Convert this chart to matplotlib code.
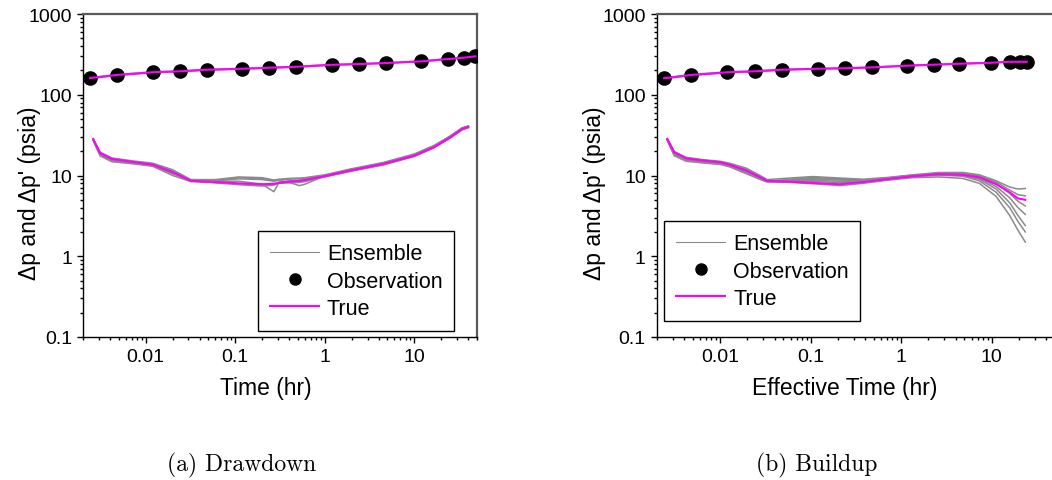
import matplotlib
matplotlib.use('Agg')
import matplotlib.pyplot as plt
from matplotlib.lines import Line2D
from matplotlib.ticker import FuncFormatter, LogLocator

plt.rcParams['font.family'] = ['Liberation Sans', 'DejaVu Sans']

# ---------------- drawdown (a) ----------------
dd_obs_t = [0.0024, 0.0048, 0.012, 0.024, 0.048, 0.12, 0.24, 0.48, 1.2, 2.4, 4.8, 12, 24, 36, 48]
dd_obs_p = [161, 176, 190, 195, 204, 210, 216, 222, 235, 240, 247, 259, 277, 288, 299]
dd_p_ens = [[158, 173, 187, 193, 201, 208, 213, 220, 232, 238, 245, 257, 274, 285, 296],
            [163, 178, 192, 197, 206, 212, 218, 224, 237, 242, 249, 262, 280, 291, 302]]

dd_t = [0.0026, 0.0031, 0.0042, 0.007, 0.012, 0.02, 0.032, 0.06, 0.11, 0.2, 0.27,
        0.31, 0.4, 0.52, 0.6, 1.0, 1.9, 4.5, 10, 16.5, 25, 34, 40]
dd_true = [28.3, 19.0, 16.0, 14.8, 13.6, 11.0, 8.6, 8.3, 8.0, 7.8, 7.9,
           8.1, 8.4, 8.6, 8.8, 9.8, 11.5, 13.9, 17.6, 22.4, 29.5, 37.6, 40]
dd_ens = [
    [28.5, 19.5, 16.5, 15.2, 14.2, 11.8, 8.9, 8.9, 9.6, 9.4, 8.8, 9.0, 9.2, 9.3, 9.4, 10.2, 12.0, 14.5, 18.5, 23.5, 30.5, 38.5, 41],
    [27.0, 17.5, 14.8, 14.0, 13.0, 10.0, 8.4, 8.1, 7.7, 7.4, 7.6, 8.2, 8.3, 8.4, 8.6, 9.6, 11.2, 13.5, 17.2, 22.0, 29.0, 36.5, 39],
    [27.5, 18.0, 15.2, 14.3, 13.3, 10.5, 8.6, 8.5, 8.5, 7.8, 6.3, 8.3, 8.6, 8.7, 8.9, 9.8, 11.5, 14.0, 17.8, 22.8, 30.0, 37.5, 40],
    [28.0, 18.5, 15.7, 14.6, 13.8, 11.2, 8.7, 8.6, 9.1, 8.9, 8.5, 8.7, 8.2, 7.5, 7.8, 9.9, 11.7, 14.2, 18.0, 23.0, 30.2, 38.0, 40.5],
    [27.8, 18.2, 15.4, 14.4, 13.5, 10.8, 8.5, 8.7, 9.3, 9.2, 8.7, 8.8, 9.0, 9.1, 9.2, 10.0, 11.8, 14.3, 18.2, 23.2, 30.8, 39.0, 41],
    [28.2, 18.8, 15.9, 14.9, 13.9, 11.5, 8.8, 8.2, 7.9, 7.6, 7.9, 8.0, 8.1, 8.2, 8.4, 9.7, 11.3, 13.7, 17.4, 22.2, 29.3, 37.0, 39.5],
]

# ---------------- buildup (b) ----------------
bu_obs_t = [0.0024, 0.0048, 0.012, 0.024, 0.048, 0.12, 0.24, 0.47, 1.17, 2.3, 4.4, 9.8, 15.8, 20.4, 24.4]
bu_obs_p = [160, 176, 190, 195, 204, 210, 213, 218, 229, 236, 242, 249, 256, 256, 256]
bu_p_ens = [[157, 173, 187, 193, 202, 208, 211, 216, 227, 234, 240, 247, 254, 254, 254],
            [162, 178, 192, 197, 206, 212, 215, 220, 231, 238, 244, 251, 258, 258, 258]]

bu_t = [0.0026, 0.0031, 0.0042, 0.0065, 0.010, 0.0127, 0.0195, 0.030, 0.033, 0.058, 0.106,
        0.21, 0.38, 0.74, 1.34, 2.6, 4.8, 7.3, 11.2, 15.8, 19.5, 23.5]
bu_true = [28.3, 19.4, 16.3, 15.3, 14.6, 13.6, 11.5, 9.1, 8.6, 8.4, 8.1,
           7.8, 8.3, 9.1, 9.8, 10.4, 10.2, 9.5, 7.8, 6.2, 5.2, 5.0]
bu_ens = [
    [28.6, 19.8, 16.8, 15.7, 15.0, 14.2, 12.3, 9.5, 8.9, 9.3, 9.7, 9.3, 9.0, 9.5, 10.2, 10.9, 10.9, 10.2, 8.6, 7.2, 6.8, 6.9],
    [27.2, 17.6, 15.0, 14.3, 13.7, 12.8, 10.5, 8.6, 8.3, 8.2, 7.9, 7.5, 8.0, 8.8, 9.4, 9.6, 9.2, 8.0, 5.5, 3.2, 2.1, 1.5],
    [27.8, 18.4, 15.6, 14.8, 14.1, 13.2, 11.0, 8.9, 8.5, 8.8, 9.2, 8.8, 8.6, 9.2, 9.9, 10.3, 10.0, 9.0, 6.8, 4.6, 3.2, 2.4],
    [28.1, 19.0, 16.0, 15.0, 14.4, 13.5, 11.6, 9.0, 8.6, 8.5, 8.4, 8.2, 8.4, 9.0, 9.7, 10.5, 10.5, 9.8, 8.0, 6.0, 4.8, 4.2],
    [27.5, 18.0, 15.3, 14.5, 13.9, 13.0, 10.8, 8.7, 8.4, 9.0, 9.5, 9.0, 8.7, 9.3, 10.0, 10.7, 10.7, 10.0, 8.3, 6.6, 5.8, 5.6],
    [28.4, 19.5, 16.5, 15.4, 14.7, 13.8, 11.9, 9.2, 8.7, 8.6, 8.7, 8.5, 8.2, 8.9, 9.6, 10.1, 9.8, 8.6, 6.2, 4.0, 2.7, 2.0],
    [27.9, 18.6, 15.8, 14.9, 14.2, 13.4, 11.3, 8.8, 8.5, 8.7, 9.0, 9.1, 8.8, 9.4, 10.1, 10.6, 10.3, 9.3, 7.3, 5.3, 4.0, 3.3],
]

ens_color = '#8a8a8a'
true_color = '#ff00ff'

fig = plt.figure(figsize=(10.52, 4.81), dpi=100)
ax1 = fig.add_axes([0.0789, 0.2973, 0.3745, 0.6715])
ax2 = fig.add_axes([0.6245, 0.2973, 0.3783, 0.6715])


def draw(ax, obs_t, obs_p, p_ens, t, true, ens, xlabel, leg_anchor, xl_x, yl_x):
    for m in p_ens:
        ax.plot(obs_t, m, color=ens_color, lw=1.0)
    for m in ens:
        ax.plot(t, m, color=ens_color, lw=1.1)
    ax.plot(obs_t, obs_p, 'o', color='black', ms=9.5, zorder=3)
    ax.plot(obs_t, obs_p, color=true_color, lw=1.5, zorder=4)
    ax.plot(t, true, color=true_color, lw=1.5, zorder=4)

    ax.set_xscale('log')
    ax.set_yscale('log')
    ax.set_xlim(0.002, 50)
    ax.set_ylim(0.1, 1000)
    fmt = FuncFormatter(lambda v, p: '%g' % v)
    ax.xaxis.set_major_formatter(fmt)
    ax.yaxis.set_major_formatter(fmt)
    ax.xaxis.set_major_locator(LogLocator(base=10, numticks=10))
    ax.yaxis.set_major_locator(LogLocator(base=10, numticks=10))
    ax.tick_params(which='both', direction='out', top=False, right=False,
                   labelsize=14, width=1, color='black')
    ax.tick_params(which='major', length=4, pad=4)
    ax.tick_params(which='minor', length=2)
    ax.spines['left'].set_color('black')
    ax.spines['bottom'].set_color('black')
    ax.spines['left'].set_linewidth(1.0)
    ax.spines['bottom'].set_linewidth(1.0)
    ax.spines['top'].set_color('#5a5a5a')
    ax.spines['right'].set_color('#5a5a5a')
    ax.spines['top'].set_linewidth(1.6)
    ax.spines['right'].set_linewidth(1.6)

    ax.set_xlabel(xlabel, fontsize=16.5)
    ax.set_ylabel("\u0394p and \u0394p' (psia)", fontsize=16.5)
    ax.xaxis.label.set_va('center')
    ax.yaxis.label.set_va('center')
    ax.xaxis.set_label_coords(xl_x, -0.155)
    ax.yaxis.set_label_coords(yl_x, 0.449)

    handles = [Line2D([], [], color=ens_color, lw=0.8),
               Line2D([], [], marker='o', ls='none', color='black', ms=8),
               Line2D([], [], color=true_color, lw=1.5)]
    leg = ax.legend(handles, ['Ensemble', 'Observation', 'True'], loc='lower left',
                    bbox_to_anchor=leg_anchor, borderaxespad=0, fontsize=15.5,
                    frameon=True, fancybox=False, framealpha=1, edgecolor='black',
                    handlelength=2.3, handletextpad=0.35, labelspacing=0.3,
                    borderpad=0.55, numpoints=1)
    leg.get_frame().set_linewidth(1.0)


draw(ax1, dd_obs_t, dd_obs_p, dd_p_ens, dd_t, dd_true, dd_ens, 'Time (hr)',
     (0.444, 0.019), 0.464, -0.137)
draw(ax2, bu_obs_t, bu_obs_p, bu_p_ens, bu_t, bu_true, bu_ens, 'Effective Time (hr)',
     (0.018, 0.05), 0.472, -0.156)

fig.text(242 / 1052, 0.033, '(a) Drawdown', fontfamily='cmr10', fontsize=17,
         ha='center', va='center')
fig.text(817 / 1052, 0.033, '(b) Buildup', fontfamily='cmr10', fontsize=17,
         ha='center', va='center')

fig.savefig('out.png', dpi=100)
